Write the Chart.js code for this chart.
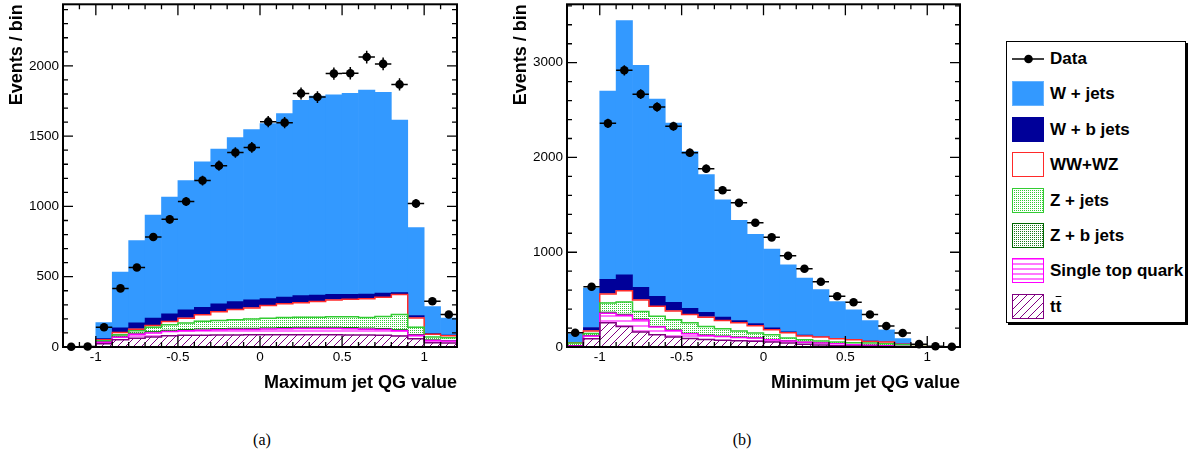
<!DOCTYPE html>
<html>
<head>
<meta charset="utf-8">
<script src="https://cdn.jsdelivr.net/npm/chart.js@4.4.0/dist/chart.umd.min.js"></script>
<style>
  body { margin: 0; background: #fff; width: 1190px; height: 459px; position: relative; overflow: hidden;
         font-family: 'Liberation Sans', Arial, sans-serif; }
  #chartA, #chartB { position: absolute; top: 0; }
  #chartA { left: 0; }
  #chartB { left: 500px; }
  .caption { position: absolute; top: 430px; line-height: 20px; transform: translateX(-50%);
             font-family: 'Liberation Serif', 'Times New Roman', serif; font-size: 16px; }
  #legend { position: absolute; left: 1006px; top: 41px; width: 178px; height: 280px;
            border: 1px solid #000; box-shadow: 2px 2px 0 #000; background: #fff; }
  .row { position: absolute; left: 5px; height: 26px; width: 170px; }
  .row canvas { position: absolute; left: 0; top: 0; }
  .row span { position: absolute; left: 38px; top: 0; line-height: 26px; font-weight: bold;
              font-size: 17px; white-space: nowrap; }
</style>
</head>
<body>
<canvas id="chartA" width="470" height="400"></canvas>
<canvas id="chartB" width="475" height="400"></canvas>
<div class="caption" style="left:262px">(a)</div>
<div class="caption" style="left:742px">(b)</div>
<div id="legend"></div>

<script>
// ===== Data =====
const binCenters = [-1.15, -1.05, -0.95, -0.85, -0.75, -0.65, -0.55, -0.45, -0.35, -0.25, -0.15, -0.05,
                    0.05, 0.15, 0.25, 0.35, 0.45, 0.55, 0.65, 0.75, 0.85, 0.95, 1.05, 1.15];
const binHalfWidth = 0.05;
const xTickValues = [-1, -0.5, 0, 0.5, 1];

// (a) Maximum jet QG value, stacked from bottom (ttbar) to top (W + jets)
const ttA   = [0, 0, 24, 52, 62, 72, 80, 83, 84, 85, 86, 87, 87, 87, 87, 87, 87, 86, 85, 83, 78, 59, 31, 28];
const stopA = [0, 0, 9, 18, 28, 28, 30, 32, 36, 37, 39, 38, 41, 43, 45, 45, 45, 44, 42, 42, 38, 24, 16, 14];
const zbA   = [0, 0, 4, 7, 8, 9, 9, 9, 8, 8, 8, 8, 8, 8, 8, 8, 8, 8, 8, 7, 7, 6, 4, 4];
const zjA   = [0, 0, 8, 10, 18, 32, 39, 46, 56, 59, 60, 67, 69, 72, 72, 72, 75, 77, 75, 85, 108, 52, 20, 20];
const wwA   = [0, 0, 7, 17, 11, 12, 24, 35, 45, 61, 73, 78, 90, 97, 102, 111, 120, 125, 134, 137, 142, 66, 19, 14];
const wbA   = [0, 0, 8, 33, 45, 52, 54, 59, 54, 57, 57, 57, 49, 49, 51, 47, 40, 35, 33, 30, 14, 17, 5, 4];
const wjA   = [0, 0, 114, 396, 585, 734, 830, 920, 1035, 1101, 1167, 1212, 1245, 1304, 1389, 1415, 1419, 1429,
               1450, 1427, 1228, 625, 193, 121];
const dataA = [2, 4, 141, 417, 566, 783, 908, 1035, 1184, 1290, 1384, 1420, 1603, 1596, 1804, 1778, 1945, 1948,
               2063, 2014, 1868, 1021, 325, 231];
const yTicksA = [0, 500, 1000, 1500, 2000];

// (b) Minimum jet QG value
const ttB   = [8, 88, 255, 217, 157, 129, 105, 91, 80, 70, 67, 60, 52, 42, 28, 20, 14, 10, 7, 5, 3, 1, 0, 0];
const stopB = [4, 27, 102, 118, 130, 81, 70, 49, 42, 42, 34, 34, 25, 21, 21, 22, 21, 15, 11, 7, 3, 1, 0, 0];
const zbB   = [2, 6, 10, 10, 8, 7, 6, 5, 5, 4, 4, 4, 3, 3, 3, 2, 2, 2, 1, 1, 1, 0, 0, 0];
const zjB   = [28, 22, 98, 129, 79, 108, 106, 110, 90, 76, 63, 49, 49, 28, 25, 19, 15, 18, 23, 22, 17, 2, 0, 0];
const wwB   = [3, 27, 95, 120, 123, 105, 94, 88, 98, 88, 87, 77, 53, 56, 38, 42, 35, 32, 17, 17, 4, 1, 0, 0];
const wbB   = [3, 36, 155, 168, 133, 105, 91, 66, 52, 35, 25, 24, 21, 10, 10, 5, 5, 3, 3, 2, 2, 1, 0, 0];
const wjB   = [92, 416, 1985, 2683, 2342, 2081, 1892, 1654, 1451, 1238, 1056, 941, 829, 707, 602, 495, 387, 312,
               218, 128, 59, 2, 0, 0];
const dataB = [150, 636, 2360, 2920, 2668, 2532, 2329, 2049, 1881, 1654, 1521, 1311, 1157, 962, 825, 689, 535,
               472, 343, 222, 147, 30, 8, 3];
const yTicksB = [0, 1000, 2000, 3000];

const FONT = "'Liberation Sans', Arial, sans-serif";

// ===== Fill patterns (ROOT-like) =====
function makePattern(kind, color) {
    const c = document.createElement('canvas');
    const g = c.getContext('2d');
    if (kind === 'hatch') {
        c.width = c.height = 8;
        g.fillStyle = '#fff'; g.fillRect(0, 0, 8, 8);
        g.strokeStyle = color; g.lineWidth = 1;
        g.beginPath();
        g.moveTo(0, 8); g.lineTo(8, 0);
        g.moveTo(-1, 1); g.lineTo(1, -1);
        g.moveTo(7, 9); g.lineTo(9, 7);
        g.stroke();
    } else if (kind === 'hlines') {
        c.width = 4; c.height = 5;
        g.fillStyle = '#fff'; g.fillRect(0, 0, 4, 5);
        g.fillStyle = color; g.fillRect(0, 0, 4, 2);
    } else if (kind === 'dots') {
        c.width = c.height = 2;
        g.fillStyle = '#fff'; g.fillRect(0, 0, 2, 2);
        g.fillStyle = color; g.fillRect(0, 0, 1, 1);
    }
    return g.createPattern(c, 'repeat');
}

// bottom -> top, same order as the arrays above; outline = width of the step line
const stackStyles = [
    { name: 'tt', fill: makePattern('hatch', '#800080'), line: '#800080', outline: 1.5 },
    { name: 'Single top quark', fill: makePattern('hlines', '#ff77ff'), line: '#ff00ff', outline: 1.5 },
    { name: 'Z + b jets', fill: makePattern('dots', '#1f7a1f'), line: '#006600', outline: 1 },
    { name: 'Z + jets', fill: makePattern('dots', '#33cc33'), line: '#33cc33', outline: 1.5 },
    { name: 'WW+WZ', fill: '#ffffff', line: '#ff2a2a', outline: 1.5 },
    { name: 'W + b jets', fill: '#000099', line: '#000099', outline: 0 },
    { name: 'W + jets', fill: '#3399ff', line: '#66b3ff', outline: 0 }
];

// ===== Frame, inside ticks and error bars =====
const rootFrame = {
    id: 'rootFrame',
    afterDatasetsDraw(chart) {
        const ctx = chart.ctx;
        const xs = chart.scales.xv, ys = chart.scales.y;
        const ds = chart.data.datasets.find(d => d.type === 'scatter');
        ctx.save();
        ctx.strokeStyle = '#000';
        ctx.lineWidth = 1.5;
        ds.data.forEach(p => {
            const px = xs.getPixelForValue(p.x);
            const py = ys.getPixelForValue(p.y);
            const err = Math.sqrt(p.y);
            ctx.beginPath();
            ctx.moveTo(xs.getPixelForValue(p.x - binHalfWidth), py);
            ctx.lineTo(xs.getPixelForValue(p.x + binHalfWidth), py);
            ctx.moveTo(px, ys.getPixelForValue(p.y - err));
            ctx.lineTo(px, ys.getPixelForValue(Math.min(p.y + err, ys.max)));
            ctx.stroke();
        });
        ctx.restore();
    },
    afterDraw(chart, args, opts) {
        const ctx = chart.ctx;
        const a = chart.chartArea;
        const xs = chart.scales.xv, ys = chart.scales.y;
        ctx.save();
        ctx.strokeStyle = '#000';
        ctx.lineWidth = 1.3;
        ctx.beginPath();
        // x ticks, bottom and top
        const k0 = Math.round(xs.min / opts.xMinor), k1 = Math.round(xs.max / opts.xMinor);
        for (let k = k0 + 1; k < k1; k++) {
            const x = xs.getPixelForValue(k * opts.xMinor);
            const len = (k % opts.xEvery === 0) ? 11 : 5;
            ctx.moveTo(x, a.bottom); ctx.lineTo(x, a.bottom - len);
            ctx.moveTo(x, a.top); ctx.lineTo(x, a.top + len);
        }
        // y ticks, left and right
        for (let k = 1; k * opts.yMinor < ys.max; k++) {
            const y = ys.getPixelForValue(k * opts.yMinor);
            const len = (k % opts.yEvery === 0) ? 10 : 5;
            ctx.moveTo(a.left, y); ctx.lineTo(a.left + len, y);
            ctx.moveTo(a.right, y); ctx.lineTo(a.right - len, y);
        }
        ctx.stroke();
        ctx.lineWidth = 2;
        ctx.strokeRect(a.left, a.top, a.right - a.left, a.bottom - a.top);
        ctx.restore();
    }
};

// ===== One histogram panel =====
function drawPanel(canvasId, cfg) {
    const datasets = cfg.stack.map((values, i) => ({
        type: 'bar',
        label: stackStyles[i].name,
        data: values,
        xAxisID: 'x',
        yAxisID: 'y',
        backgroundColor: stackStyles[i].fill,
        borderWidth: 0,
        grouped: false,
        barPercentage: 1,
        categoryPercentage: 1
    }));

    // step outlines of the stacked histograms (cumulative sums of the arrays)
    let running = binCenters.map(() => 0);
    cfg.stack.forEach((values, i) => {
        running = running.map((v, j) => v + values[j]);
        const st = stackStyles[i];
        if (!st.outline) return;
        const pts = running.map((v, j) => ({ x: binCenters[j] - binHalfWidth, y: v }));
        pts.push({ x: binCenters[binCenters.length - 1] + binHalfWidth, y: running[running.length - 1] });
        datasets.push({
            type: 'line',
            label: st.name + ' outline',
            data: pts,
            xAxisID: 'xv',
            yAxisID: 'y',
            stack: 'outline' + i,
            stepped: 'before',
            borderColor: st.line,
            borderWidth: st.outline,
            pointRadius: 0,
            fill: false,
            order: -1 - (cfg.stack.length - i) * 0.01
        });
    });

    datasets.push({
        type: 'scatter',
        label: 'Data',
        data: cfg.data.map((v, i) => ({ x: binCenters[i], y: v })),
        xAxisID: 'xv',
        yAxisID: 'y',
        stack: 'data',
        order: -2,
        pointRadius: 4.3,
        pointBackgroundColor: '#000',
        pointBorderWidth: 0,
        clip: false
    });

    new Chart(document.getElementById(canvasId).getContext('2d'), {
        type: 'bar',
        data: { labels: binCenters, datasets: datasets },
        options: {
            responsive: false,
            animation: false,
            datasets: { bar: { barPercentage: 1, categoryPercentage: 1 } },
            layout: { padding: { top: 2, right: cfg.padRight, left: 0, bottom: 0 } },
            plugins: {
                legend: { display: false },
                tooltip: { enabled: false },
                rootFrame: { xMinor: 0.1, xEvery: 5, yMinor: cfg.yMinor, yEvery: cfg.yEvery }
            },
            scales: {
                x: { type: 'category', display: false, stacked: true, offset: true },
                xv: {
                    type: 'linear', position: 'bottom', min: -1.2, max: 1.2, offset: false,
                    afterBuildTicks: axis => { axis.ticks = xTickValues.map(v => ({ value: v })); },
                    afterFit: axis => { axis.height = 53; axis.paddingLeft = 0; axis.paddingRight = 0; },
                    grid: { display: false, drawTicks: false, offset: false },
                    border: { display: false },
                    ticks: { color: '#000', padding: 2, maxRotation: 0, autoSkip: false,
                             callback: v => String(v), font: { family: FONT, size: 13.5 } },
                    title: { display: true, text: cfg.xTitle, align: 'end', color: '#000',
                             font: { family: FONT, size: 18, weight: 'bold' }, padding: { top: 0, bottom: 6 } }
                },
                y: {
                    stacked: true, min: 0, max: cfg.yMax,
                    afterBuildTicks: axis => { axis.ticks = cfg.yTicks.map(v => ({ value: v })); },
                    afterFit: axis => { axis.width = cfg.yWidth; axis.paddingTop = 0; axis.paddingBottom = 0; },
                    grid: { display: false, drawTicks: false },
                    border: { display: false },
                    ticks: { color: '#000', padding: 4, callback: v => String(v),
                             font: { family: FONT, size: 13.5 } },
                    title: { display: true, text: 'Events / bin', align: 'end', color: '#000',
                             font: { family: FONT, size: 18, weight: 'bold' },
                             padding: { top: cfg.yTitlePad, bottom: 0 } }
                }
            }
        },
        plugins: [rootFrame]
    });
}

drawPanel('chartA', {
    stack: [ttA, stopA, zbA, zjA, wwA, wbA, wjA], data: dataA,
    yMax: 2438, yTicks: yTicksA, yMinor: 100, yEvery: 5,
    yWidth: 63, padRight: 13, yTitlePad: 6, xTitle: 'Maximum jet QG value'
});
drawPanel('chartB', {
    stack: [ttB, stopB, zbB, zjB, wwB, wbB, wjB], data: dataB,
    yMax: 3616, yTicks: yTicksB, yMinor: 200, yEvery: 5,
    yWidth: 67, padRight: 15, yTitlePad: 10, xTitle: 'Minimum jet QG value'
});

// ===== Legend =====
const legendRows = [
    { html: 'Data' },
    { html: 'W + jets', style: 6 },
    { html: 'W + b jets', style: 5 },
    { html: 'WW+WZ', style: 4 },
    { html: 'Z + jets', style: 3 },
    { html: 'Z + b jets', style: 2 },
    { html: 'Single top quark', style: 1 },
    { html: 't<span style="position:static;text-decoration:overline">t</span>', style: 0 }
];
const legendBox = document.getElementById('legend');
legendRows.forEach((row, i) => {
    const div = document.createElement('div');
    div.className = 'row';
    div.style.top = (4 + i * 35.4) + 'px';
    const sw = document.createElement('canvas');
    sw.width = 33; sw.height = 26;
    const g = sw.getContext('2d');
    if (row.style === undefined) {
        g.strokeStyle = '#000'; g.lineWidth = 1.5;
        g.beginPath(); g.moveTo(0, 13); g.lineTo(32, 13); g.stroke();
        g.fillStyle = '#000';
        g.beginPath(); g.arc(16.5, 13, 4.3, 0, Math.PI * 2); g.fill();
    } else {
        const st = stackStyles[row.style];
        g.fillStyle = st.fill; g.fillRect(0, 0, 32, 25);
        g.strokeStyle = st.line; g.lineWidth = 1;
        g.strokeRect(0.5, 0.5, 31, 24);
    }
    const label = document.createElement('span');
    label.innerHTML = row.html;
    div.appendChild(sw);
    div.appendChild(label);
    legendBox.appendChild(div);
});
</script>
</body>
</html>
